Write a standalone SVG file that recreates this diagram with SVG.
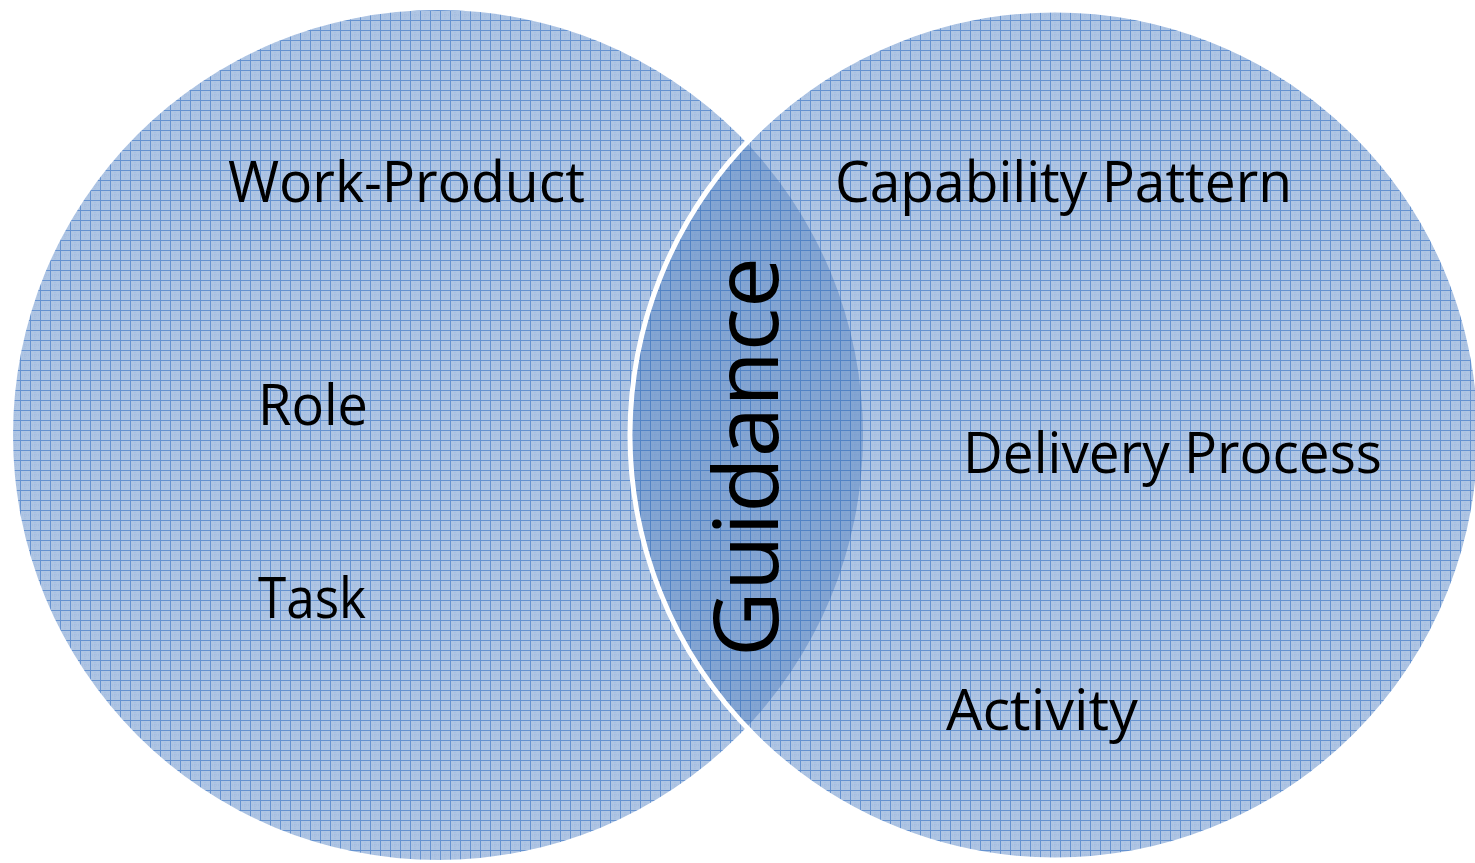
<svg xmlns="http://www.w3.org/2000/svg" width="1475" height="863" viewBox="0 0 1475 863">
  <defs>
    <pattern id="grid" x="0" y="0" width="10" height="10" patternUnits="userSpaceOnUse">
      <rect width="10" height="10" fill="#afc5e3"/>
      <path d="M0 5H10M5 0V10" stroke="#a0badf" stroke-width="1" stroke-dasharray="1 1"/>
      <path d="M0 0.5H10M0.5 0V10" stroke="#6592d0" stroke-width="1"/>
    </pattern>
    <clipPath id="leftClip"><circle cx="438" cy="435" r="425"/></clipPath>
  </defs>
  <style>
    .lbl { font-family: "Open Sans", "Liberation Sans", sans-serif; font-size: 56px; fill: #000; }
    .big { font-family: "Open Sans", "Liberation Sans", sans-serif; font-size: 90px; fill: #000; }
  </style>
  <rect width="1475" height="863" fill="#ffffff"/>
  <g id="left-circle">
    <circle cx="438" cy="435" r="425" fill="url(#grid)"/>
  </g>
  <g id="right-circle">
    <circle cx="1055" cy="435" r="425" fill="url(#grid)" stroke="#ffffff" stroke-width="5"/>
  </g>
  <g id="lens">
    <circle cx="1055" cy="435" r="422.5" fill="#2f64b0" fill-opacity="0.33" clip-path="url(#leftClip)"/>
  </g>
  <g id="connectors"></g>
  <g id="node-work-product"><text class="lbl" x="228" y="202" textLength="357" lengthAdjust="spacingAndGlyphs">Work-Product</text></g>
  <g id="node-role"><text class="lbl" x="258" y="425" textLength="110" lengthAdjust="spacingAndGlyphs">Role</text></g>
  <g id="node-task"><text class="lbl" x="258" y="618" textLength="108" lengthAdjust="spacingAndGlyphs">Task</text></g>
  <g id="node-capability-pattern"><text class="lbl" x="835" y="202" textLength="457" lengthAdjust="spacingAndGlyphs">Capability Pattern</text></g>
  <g id="node-delivery-process"><text class="lbl" x="963" y="473" textLength="419" lengthAdjust="spacingAndGlyphs">Delivery Process</text></g>
  <g id="node-activity"><text class="lbl" x="946" y="730" textLength="192" lengthAdjust="spacingAndGlyphs">Activity</text></g>
  <g id="node-guidance"><text class="big" transform="translate(778 657) rotate(-90)" x="0" y="0" textLength="400" lengthAdjust="spacingAndGlyphs">Guidance</text></g>
</svg>
